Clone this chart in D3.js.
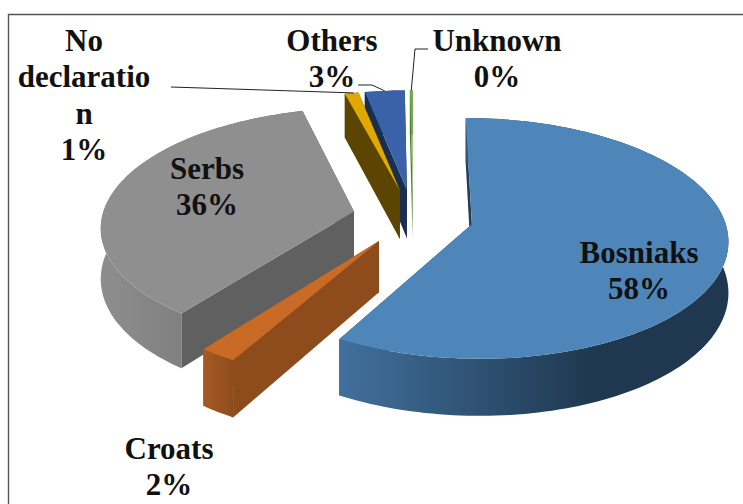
<!DOCTYPE html>
<html><head><meta charset="utf-8">
<script src="https://cdn.jsdelivr.net/npm/d3@7/dist/d3.min.js"></script>
<style>html,body{margin:0;background:#fff}svg{display:block}text{font-family:"Liberation Serif",serif;font-weight:bold;font-size:31px;fill:#111}</style>
</head><body><svg id="c" width="743" height="504"></svg>
<script>
const categories = ["Bosniaks","Croats","Serbs","No declaration","Others","Unknown"];
const values = [58.2,2.1,35.6,1.0,2.9,0.2];
const topColors = ["#4f86b9","#c96a27","#8f8f8f","#e0a800","#3a62a8","#70ad47"];
const cutColors = ["#22405c","#8e4c1c","#606060","#5c4500","#1a2e50","#4a7a30"];
const wallLeft = ["#41709c","#a55a22","#8e8e8e","#5c4500","#1a2e50","#4a7a30"];
const wallRight = ["#1f3850","#8e4c1c","#6a6a6a","#5c4500","#1a2e50","#4a7a30"];
const labelLines = [["Bosniaks","58%"],["Croats","2%"],["Serbs","36%"],["No","declaratio","n","1%"],["Others","3%"],["Unknown","0%"]];
const labelAnchors = [[639,263],[169,459],[207,179],[84,51],[332,51],[497,51]];

const CX=413, CY=217, R=252, TILT=117, DEPTH=50, PERSP=0.117, EXPLODE=0.24;
const svg=d3.select("#c");
const defs=svg.append("defs");
svg.append("path").attr("d","M8.5,504V14.5H743").attr("fill","none").attr("stroke","#555").attr("stroke-width",1.4);

function project(X,Y,drop=0){
  const s=1/(1-PERSP*Y);
  return [CX+R*X*s, CY+TILT*Y*s+DEPTH*s*drop];
}
const arcs=d3.pie().sort(null).value(d=>d)(values);
const line=d3.line();
const slices=arcs.map((a,i)=>{
  const mid=(a.startAngle+a.endAngle)/2;
  const ox=EXPLODE*Math.sin(mid), oy=-EXPLODE*Math.cos(mid);
  const n=Math.max(2,Math.ceil((a.endAngle-a.startAngle)*40));
  const angs=d3.range(n+1).map(k=>a.startAngle+(a.endAngle-a.startAngle)*k/n);
  const rim=angs.map(t=>[ox+Math.sin(t),oy-Math.cos(t)]);
  return {i,mid,ox,oy,rim,near:oy};
});
const P=(pts,drop)=>pts.map(p=>project(p[0],p[1],drop));
slices.slice().sort((a,b)=>a.near-b.near).forEach(s=>{
  const g=svg.append("g").attr("class","slice");
  const apex=[s.ox,s.oy], first=s.rim[0], last=s.rim[s.rim.length-1];
  const quad=(u,v)=>[project(u[0],u[1],0),project(v[0],v[1],0),project(v[0],v[1],1),project(u[0],u[1],1)];
  g.append("path").attr("d",line(quad(apex,first))+"Z").attr("fill",cutColors[s.i]);
  g.append("path").attr("d",line(quad(apex,last))+"Z").attr("fill",cutColors[s.i]);
  const top=P(s.rim,0), bot=P(s.rim,1).reverse();
  const band=top.concat(bot);
  const ext=d3.extent(band,p=>p[0]);
  const id="w"+s.i;
  const lg=defs.append("linearGradient").attr("id",id).attr("gradientUnits","userSpaceOnUse")
    .attr("x1",ext[0]).attr("x2",ext[1]).attr("y1",0).attr("y2",0);
  lg.append("stop").attr("offset",0).attr("stop-color",wallLeft[s.i]);
  lg.append("stop").attr("offset",s.i===0?0.65:1).attr("stop-color",wallRight[s.i]);
  g.append("path").attr("d",line(band)+"Z").attr("fill","url(#"+id+")");
  g.append("path").attr("d",line([project(apex[0],apex[1])].concat(top))+"Z").attr("fill",topColors[s.i]);
});
const rimMid=i=>{const r=slices[i].rim;return project(...r[Math.floor(r.length/2)]);};
const leaders=[[[171,87],rimMid(3)],[[358,85],[372,85],rimMid(4)],[[428,49],[415,49],rimMid(5)]];
leaders.forEach(l=>svg.append("path").attr("d",line(l)).attr("fill","none").attr("stroke","#222").attr("stroke-width",1));
labelLines.forEach((ls,i)=>{
  const t=svg.append("text").attr("text-anchor","middle");
  ls.forEach((w,k)=>t.append("tspan").attr("x",labelAnchors[i][0]).attr("y",labelAnchors[i][1]+k*36.3).text(w));
});
</script></body></html>
